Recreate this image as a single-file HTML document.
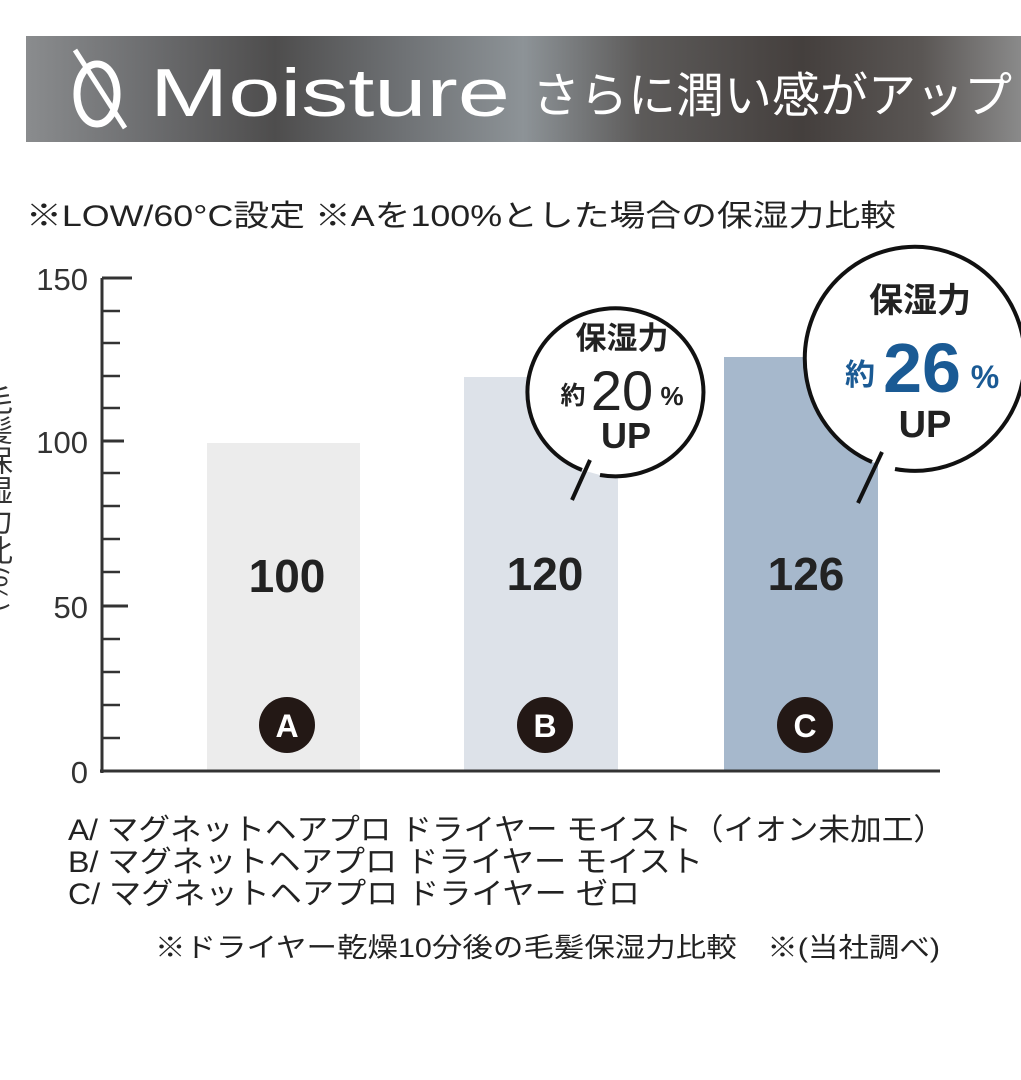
<!DOCTYPE html>
<html><head><meta charset="utf-8"><style>
body{margin:0;width:1021px;height:1080px;background:#fff;overflow:hidden;font-family:"Liberation Sans","Noto Sans CJK JP",sans-serif;}
</style></head><body>
<svg width="1021" height="1080" xmlns="http://www.w3.org/2000/svg" style="position:absolute;left:0;top:0">
<defs>
<linearGradient id="hg" x1="0" x2="1" y1="0" y2="0">
<stop offset="0" stop-color="#8a8c8e"/><stop offset="0.12" stop-color="#6d6e70"/>
<stop offset="0.25" stop-color="#4e4d4d"/><stop offset="0.38" stop-color="#6f7275"/>
<stop offset="0.5" stop-color="#8d9397"/><stop offset="0.62" stop-color="#5c5a59"/>
<stop offset="0.78" stop-color="#443f3d"/><stop offset="0.9" stop-color="#5a5654"/>
<stop offset="1" stop-color="#8a8a8a"/></linearGradient>
</defs>
<rect x="26" y="36" width="995" height="106" fill="url(#hg)"/>
<ellipse cx="97" cy="94" rx="20" ry="30" fill="none" stroke="#fff" stroke-width="7"/>
<line x1="75" y1="50" x2="125" y2="128" stroke="#fff" stroke-width="5"/>
<text x="150" y="116" fill="#fff" font-size="68" textLength="360" lengthAdjust="spacingAndGlyphs" font-family="Liberation Sans, sans-serif">Moisture</text>
<text x="532" y="112" fill="#fff" font-size="48" textLength="480" lengthAdjust="spacingAndGlyphs" font-family="Noto Sans CJK JP, sans-serif">さらに潤い感がアップ</text>
<text x="26" y="226" fill="#222" font-size="30" textLength="870" lengthAdjust="spacingAndGlyphs" font-family="Liberation Sans, Noto Sans CJK JP, sans-serif">※LOW/60°C設定  ※Aを100%とした場合の保湿力比較</text>
<text fill="#333" font-size="30" font-family="Noto Sans CJK JP, sans-serif" writing-mode="tb" x="-2" y="385">毛髪保湿力比(%)</text>
<rect x="207" y="443" width="153" height="329" fill="#ececec"/>
<rect x="464" y="377" width="154" height="395" fill="#dde2e9"/>
<rect x="724" y="357" width="154" height="415" fill="#a6b8cc"/>
<g stroke="#333" stroke-width="3">
<line x1="102" y1="278" x2="102" y2="773"/>
<line x1="100" y1="771" x2="940" y2="771"/>
<line x1="102" y1="278" x2="132" y2="278"/>
<line x1="102" y1="441" x2="124" y2="441"/>
<line x1="102" y1="606" x2="128" y2="606"/>
</g>
<g stroke="#333" stroke-width="2.5">
<line x1="102" y1="311" x2="120" y2="311"/><line x1="102" y1="343" x2="120" y2="343"/>
<line x1="102" y1="376" x2="120" y2="376"/><line x1="102" y1="408" x2="120" y2="408"/>
<line x1="102" y1="473" x2="120" y2="473"/><line x1="102" y1="506" x2="120" y2="506"/>
<line x1="102" y1="539" x2="120" y2="539"/><line x1="102" y1="572" x2="120" y2="572"/>
<line x1="102" y1="639" x2="120" y2="639"/><line x1="102" y1="672" x2="120" y2="672"/>
<line x1="102" y1="705" x2="120" y2="705"/><line x1="102" y1="738" x2="120" y2="738"/>
</g>
<g fill="#333" font-size="31" text-anchor="end">
<text x="88" y="290">150</text><text x="88" y="453">100</text>
<text x="88" y="618">50</text><text x="88" y="783">0</text>
</g>
<g fill="#222" font-size="46" font-weight="bold" text-anchor="middle">
<text x="287" y="592">100</text><text x="545" y="590">120</text><text x="806" y="590">126</text>
</g>
<g>
<circle cx="287" cy="725" r="28" fill="#231815"/><text x="287" y="737" fill="#fff" font-size="32" font-weight="bold" text-anchor="middle">A</text>
<circle cx="545" cy="725" r="28" fill="#231815"/><text x="545" y="737" fill="#fff" font-size="32" font-weight="bold" text-anchor="middle">B</text>
<circle cx="805" cy="725" r="28" fill="#231815"/><text x="805" y="737" fill="#fff" font-size="32" font-weight="bold" text-anchor="middle">C</text>
</g>
<path d="M 582 470 A 88 84 0 1 1 600 475" fill="#fff" stroke="#111" stroke-width="4"/>
<line x1="590" y1="460" x2="572" y2="500" stroke="#111" stroke-width="4"/>
<g fill="#222" text-anchor="middle" font-family="Noto Sans CJK JP, sans-serif" font-weight="bold">
<text x="622" y="349" font-size="31">保湿力</text>
<text x="573" y="404" font-size="25">約</text>
<text x="622" y="410" font-size="56" font-weight="normal" font-family="Liberation Sans, sans-serif">20</text>
<text x="672" y="405" font-size="26" font-family="Liberation Sans, sans-serif">%</text>
<text x="626" y="448" font-size="36" font-family="Liberation Sans, sans-serif">UP</text>
</g>
<path d="M 872 462 A 110 112 0 1 1 895 469" fill="#fff" stroke="#111" stroke-width="4"/>
<line x1="882" y1="452" x2="858" y2="503" stroke="#111" stroke-width="4"/>
<g text-anchor="middle" font-weight="bold">
<text x="920" y="312" font-size="34" fill="#222" font-family="Noto Sans CJK JP, sans-serif">保湿力</text>
<text x="860" y="385" font-size="30" fill="#1a5a94" font-family="Noto Sans CJK JP, sans-serif">約</text>
<text x="922" y="392" font-size="70" fill="#1a5a94" font-family="Liberation Sans, sans-serif">26</text>
<text x="985" y="388" font-size="32" fill="#1a5a94" font-family="Liberation Sans, sans-serif">%</text>
<text x="925" y="437" font-size="38" fill="#222" font-family="Liberation Sans, sans-serif">UP</text>
</g>
<g fill="#222" font-size="30" font-family="Liberation Sans, Noto Sans CJK JP, sans-serif">
<text x="68" y="840" textLength="877" lengthAdjust="spacingAndGlyphs">A/ マグネットヘアプロ ドライヤー モイスト（イオン未加工）</text>
<text x="68" y="872" textLength="635" lengthAdjust="spacingAndGlyphs">B/ マグネットヘアプロ ドライヤー モイスト</text>
<text x="68" y="904" textLength="572" lengthAdjust="spacingAndGlyphs">C/ マグネットヘアプロ ドライヤー ゼロ</text>
<text x="155" y="957" font-size="27" textLength="785" lengthAdjust="spacingAndGlyphs">※ドライヤー乾燥10分後の毛髪保湿力比較　※(当社調べ)</text>
</g>
</svg>
</body></html>
